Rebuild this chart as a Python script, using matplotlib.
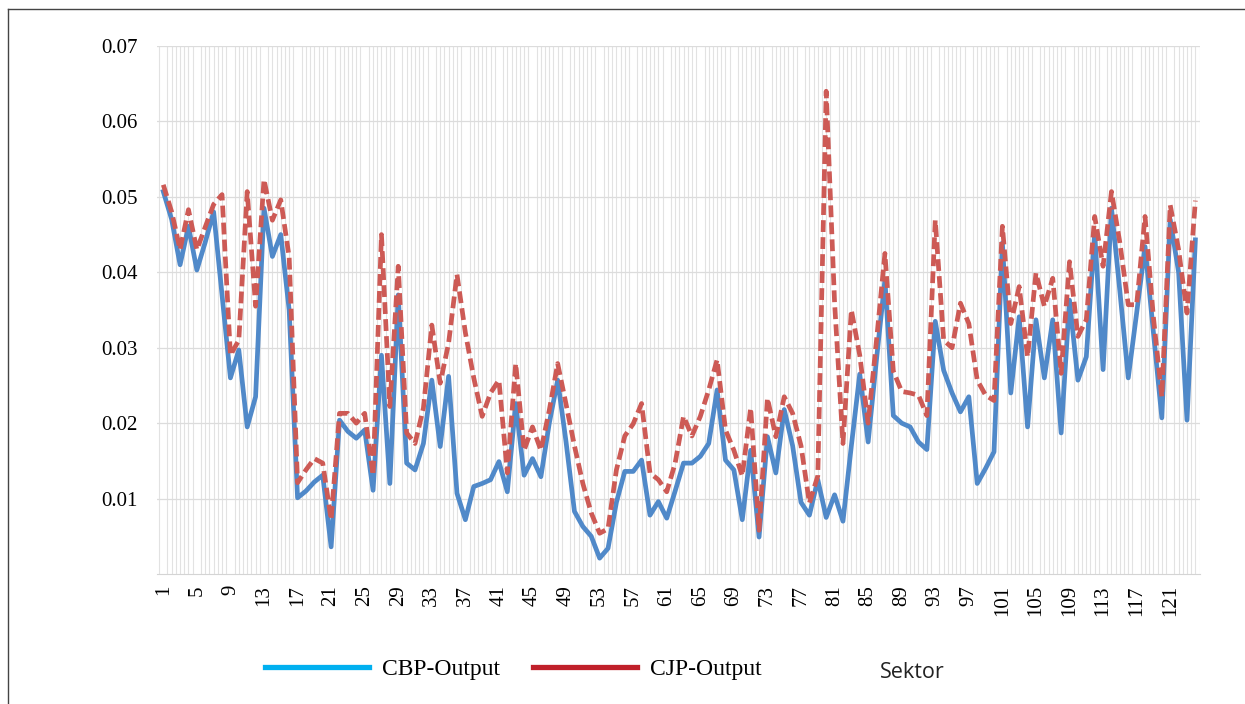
"""Output multiplier per sector: CBP vs CJP, line chart."""
import numpy as np
import matplotlib
matplotlib.use("Agg")
import matplotlib.pyplot as plt
from matplotlib.lines import Line2D


################################################################################
# DATA
################################################################################

SECTORS = np.arange(1, 125)

CBP_OUTPUT = [
    0.0507, 0.0470, 0.0410, 0.0461, 0.0403, 0.0440, 0.0480, 0.0370, 0.0260, 0.0297,
    0.0195, 0.0235, 0.0485, 0.0421, 0.0450, 0.0350, 0.0101, 0.0110, 0.0122, 0.0131,
    0.0036, 0.0204, 0.0189, 0.0180, 0.0191, 0.0111, 0.0290, 0.0120, 0.0370, 0.0147,
    0.0138, 0.0173, 0.0257, 0.0169, 0.0262, 0.0107, 0.0072, 0.0116, 0.0120, 0.0125,
    0.0149, 0.0109, 0.0226, 0.0131, 0.0153, 0.0129, 0.0200, 0.0257, 0.0175, 0.0083,
    0.0063, 0.0050, 0.0021, 0.0034, 0.0095, 0.0136, 0.0136, 0.0151, 0.0078, 0.0096,
    0.0074, 0.0110, 0.0147, 0.0147, 0.0156, 0.0173, 0.0244, 0.0151, 0.0138, 0.0072,
    0.0164, 0.0049, 0.0182, 0.0134, 0.0218, 0.0170, 0.0095, 0.0078, 0.0125, 0.0075,
    0.0105, 0.0070, 0.0170, 0.0265, 0.0175, 0.0285, 0.0390, 0.0210, 0.0200, 0.0195,
    0.0175, 0.0165, 0.0335, 0.0270, 0.0240, 0.0215, 0.0235, 0.0120, 0.0140, 0.0162,
    0.0439, 0.0240, 0.0341, 0.0195, 0.0337, 0.0260, 0.0337, 0.0187, 0.0363, 0.0257,
    0.0288, 0.0452, 0.0271, 0.0485, 0.0375, 0.0260, 0.0346, 0.0434, 0.0320, 0.0207,
    0.0470, 0.0400, 0.0204, 0.0443,
]

CJP_OUTPUT = [
    0.0516, 0.0480, 0.0430, 0.0483, 0.0430, 0.0460, 0.0490, 0.0503, 0.0290, 0.0310,
    0.0507, 0.0355, 0.0523, 0.0469, 0.0496, 0.0420, 0.0121, 0.0138, 0.0153, 0.0147,
    0.0072, 0.0213, 0.0213, 0.0200, 0.0213, 0.0131, 0.0450, 0.0222, 0.0408, 0.0187,
    0.0173, 0.0220, 0.0330, 0.0253, 0.0306, 0.0397, 0.0320, 0.0260, 0.0209, 0.0240,
    0.0257, 0.0134, 0.0279, 0.0164, 0.0195, 0.0164, 0.0217, 0.0279, 0.0225, 0.0170,
    0.0120, 0.0081, 0.0054, 0.0060, 0.0138, 0.0183, 0.0199, 0.0226, 0.0134, 0.0125,
    0.0109, 0.0147, 0.0209, 0.0183, 0.0209, 0.0244, 0.0284, 0.0191, 0.0164, 0.0130,
    0.0220, 0.0058, 0.0233, 0.0182, 0.0235, 0.0213, 0.0170, 0.0094, 0.0130, 0.0640,
    0.0360, 0.0173, 0.0350, 0.0290, 0.0200, 0.0310, 0.0425, 0.0269, 0.0242, 0.0240,
    0.0237, 0.0210, 0.0469, 0.0310, 0.0300, 0.0359, 0.0332, 0.0257, 0.0237, 0.0230,
    0.0461, 0.0332, 0.0381, 0.0288, 0.0399, 0.0355, 0.0392, 0.0266, 0.0414, 0.0315,
    0.0337, 0.0474, 0.0408, 0.0507, 0.0439, 0.0357, 0.0357, 0.0474, 0.0340, 0.0235,
    0.0489, 0.0430, 0.0346, 0.0495,
]

XTICK_LABELS = [str(s) for s in range(1, 122, 4)]
YTICKS = [0.01, 0.02, 0.03, 0.04, 0.05, 0.06, 0.07]


################################################################################
# PLOTTING
################################################################################

SERIF = "Liberation Serif"
BLUE = "#5089c9"
RED = "#cd5a55"
GRID = "#e2e2e2"

fig = plt.figure(figsize=(12.45, 7.04), dpi=100)
ax = fig.add_axes([157 / 1245, 1 - 574 / 704, (1200 - 157) / 1245, (574 - 46) / 704])

ax.plot(SECTORS, CBP_OUTPUT, color=BLUE, lw=3.4, solid_joinstyle="round", zorder=3)
ax.plot(SECTORS, CJP_OUTPUT, color=RED, lw=3.4, ls=(0, (2.5, 1.1)), zorder=4)

# Axes.
ax.set_xlim(0.25, 124.55)
ax.set_ylim(0, 0.07)
ax.set_xticks(list(range(1, 122, 4)))
ax.set_xticklabels(XTICK_LABELS, rotation=90, family=SERIF, fontsize=15)
ax.set_xticks(np.arange(0.5, 125, 0.5), minor=True)
ax.set_yticks(YTICKS)
ax.set_yticklabels([f"{v:.2f}" for v in YTICKS], family=SERIF, fontsize=15)
ax.tick_params(axis="x", which="both", length=0, pad=8)
ax.tick_params(axis="y", which="both", length=0, pad=14)

ax.grid(axis="x", which="minor", color=GRID, lw=0.8, zorder=0)
ax.grid(axis="y", which="major", color="#dcdcdc", lw=0.9, zorder=0)
for side in ("top", "right", "left"):
    ax.spines[side].set_visible(False)
ax.spines["bottom"].set_color("#d4d4d4")
ax.set_axisbelow(True)

# Legend.
handles = [
    Line2D([], [], color="#00b0f0", lw=3.8, label="CBP-Output"),
    Line2D([], [], color="#c0202a", lw=3.8, label="CJP-Output"),
]
fig.legend(
    handles=handles,
    loc="center left",
    bbox_to_anchor=(265 / 1245, 1 - 669 / 704),
    ncol=2,
    frameon=False,
    borderpad=0,
    borderaxespad=0,
    handlelength=4.4,
    handletextpad=0.55,
    columnspacing=1.4,
    prop={"family": SERIF, "size": 17},
)
fig.text(880 / 1245, 1 - 672 / 704, "Sektor", family="Open Sans", fontsize=15.5,
         ha="left", va="center", color="#222222")

# Figure frame.
fig.add_artist(Line2D([8 / 1245, 8 / 1245], [0, 1 - 9 / 704], color="#444444", lw=1.0))
fig.add_artist(Line2D([8 / 1245, 1], [1 - 9 / 704, 1 - 9 / 704], color="#444444", lw=1.0))

fig.savefig("out.png", dpi=100)
